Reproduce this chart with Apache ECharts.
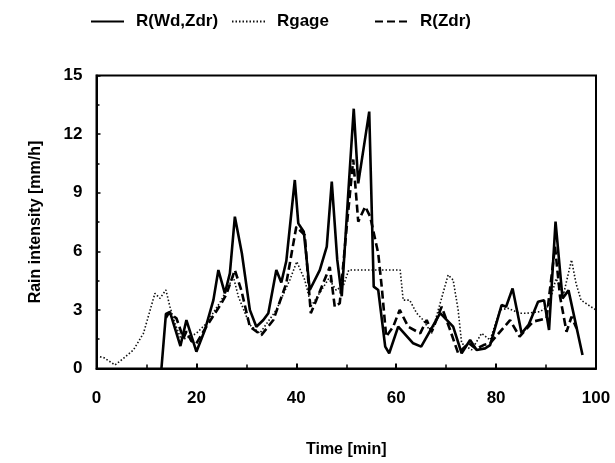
<!DOCTYPE html>
<html>
<head>
<meta charset="utf-8">
<script src="https://cdn.jsdelivr.net/npm/echarts@6/dist/echarts.min.js"></script>
<style>html,body{margin:0;padding:0;background:#fff;}#c{width:615px;height:463px;}</style>
</head>
<body>
<div id="c"></div>
<script>
// R(Wd,Zdr) - solid
var solidT = [13, 13.9, 14.7, 16.8, 18, 20, 21.7, 23.4, 24.4, 25.7, 26.7, 27.7, 29.1, 30.7, 32, 33.4, 34.4, 36, 37, 38, 39.7, 40.4, 41.5, 42.7, 44.7, 46.1, 47.1, 48.2, 49.1, 50.4, 51.5, 52.4, 54.6, 55.5, 56.4, 57.8, 58.6, 60.4, 63.4, 65, 68.8, 71.4, 73.1, 74.8, 76.1, 77.8, 78.8, 81.1, 82, 83.3, 85.1, 86.5, 88.4, 89.6, 90.6, 91.9, 93.3, 94.5, 97.3];
var solidV = [0, 2.8, 2.9, 1.15, 2.48, 0.86, 1.97, 3.5, 5.04, 3.85, 4.87, 7.77, 5.9, 3.0, 2.14, 2.48, 2.83, 5.04, 4.4, 5.5, 9.65, 7.43, 7.0, 4.02, 5.04, 6.24, 9.57, 5.56, 3.7, 8.97, 13.3, 9.48, 13.15, 4.19, 4.02, 1.12, 0.78, 2.14, 1.29, 1.12, 2.83, 2.14, 0.78, 1.46, 0.95, 1.03, 1.2, 3.25, 3.16, 4.1, 1.8, 2.23, 3.42, 3.5, 1.97, 7.52, 3.59, 4.0, 0.69];
// Rgage - dotted
var gageT = [0.7, 1.5, 3.7, 5.4, 7.4, 9.4, 11.7, 12.7, 13.9, 14.7, 15.7, 17, 18.7, 20, 22, 25, 27.4, 28.4, 30.7, 32.7, 36, 38.7, 40.1, 41.7, 43, 44.5, 46.5, 48, 49.5, 50.5, 60.8, 61.4, 62.7, 64.1, 65.4, 67.1, 70.4, 71.4, 72.4, 73.1, 75.1, 77.1, 78.8, 80.8, 82.4, 84.7, 86.1, 88.8, 90.5, 92, 93.5, 95.1, 96, 97, 99, 100];
var gageV = [0.6, 0.55, 0.18, 0.52, 0.95, 1.8, 3.85, 3.59, 4.02, 3.16, 2.31, 1.46, 1.63, 1.8, 2.31, 3.5, 4.7, 3.68, 2.23, 1.8, 3.0, 4.53, 5.47, 4.53, 3.2, 3.8, 4.6, 4.0, 4.3, 5.04, 5.04, 3.5, 3.5, 2.83, 2.48, 1.8, 4.79, 4.53, 3.0, 1.29, 0.95, 1.8, 1.46, 3.0, 3.08, 2.83, 2.83, 2.91, 3.2, 4.6, 3.8, 5.56, 4.36, 3.5, 3.16, 3.0];
// R(Zdr) - dashed
var zdrT = [13.9, 14.5, 16, 17.4, 18, 19, 20, 22, 25, 26, 27.7, 29, 30.7, 33, 35.4, 38, 40, 41.7, 42.9, 44, 46.7, 47.7, 48.7, 50, 51.4, 52.4, 53.8, 54.8, 56.4, 57.1, 58, 59.4, 60.7, 62.4, 64.8, 66.1, 67.1, 69.1, 70.8, 72.4, 74.5, 76, 77.5, 78.8, 82.8, 84.7, 87.4, 90.1, 91.8, 92.8, 94.1, 95.1, 96.1];
var zdrV = [2.6, 2.85, 2.57, 1.55, 1.9, 1.4, 1.29, 2.14, 3.34, 3.8, 5.04, 4.0, 2.14, 1.71, 2.48, 4.36, 7.26, 6.83, 2.83, 3.5, 5.2, 3.16, 3.34, 7.0, 10.7, 7.52, 8.29, 7.77, 5.9, 4.19, 1.63, 2.14, 3.0, 2.14, 1.8, 2.48, 1.88, 3.16, 1.97, 0.78, 1.3, 1.0, 1.2, 1.29, 2.48, 1.63, 2.4, 2.57, 6.24, 3.68, 1.88, 2.65, 2.06];

var names = ['R(Wd,Zdr)', 'Rgage', 'R(Zdr)'];
var xTicks = [0, 20, 40, 60, 80, 100];
var yTicks = [0, 3, 6, 9, 12, 15];

function pairs(t, v) { return t.map(function (x, i) { return [x, v[i]]; }); }

var FONT = 'Liberation Sans, Arial, sans-serif';
var chart = echarts.init(document.getElementById('c'), null, { renderer: 'canvas' });
var legendCommon = {
  top: 8, itemWidth: 33, itemHeight: 14, itemGap: 10,
  itemStyle: { opacity: 0, borderWidth: 0 },
  textStyle: { fontFamily: FONT, fontSize: 17, fontWeight: 'bold', color: '#000', padding: [0, 0, 0, 7] }
};
chart.setOption({
  backgroundColor: '#fff',
  animation: false,
  legend: [
    Object.assign({ left: 85, data: [names[0]] }, legendCommon),
    Object.assign({ left: 226, data: [names[1]] }, legendCommon),
    Object.assign({ left: 369, data: [names[2]] }, legendCommon)
  ],
  grid: { left: 96.5, right: 19, top: 75.5, bottom: 94.5, show: true, borderColor: '#000', borderWidth: 2, backgroundColor: 'transparent' },
  xAxis: {
    type: 'value', min: xTicks[0], max: xTicks[xTicks.length - 1], interval: 20,
    name: 'Time [min]', nameLocation: 'middle', nameGap: 73,
    nameTextStyle: { fontFamily: FONT, fontSize: 16, fontWeight: 'bold', color: '#000' },
    axisLine: { lineStyle: { color: '#000', width: 2 } },
    axisTick: { inside: true, length: 5, lineStyle: { color: '#000', width: 2 } },
    minorTick: { show: true, splitNumber: 2, length: 4, lineStyle: { color: '#000', width: 1.5 } },
    splitLine: { show: false },
    axisLabel: { fontFamily: FONT, fontSize: 17, fontWeight: 'bold', color: '#000', margin: 21 }
  },
  yAxis: {
    type: 'value', min: yTicks[0], max: yTicks[yTicks.length - 1], interval: 3,
    name: 'Rain intensity [mm/h]', nameLocation: 'middle', nameGap: 53, nameRotate: 90,
    nameTextStyle: { fontFamily: FONT, fontSize: 16, fontWeight: 'bold', color: '#000' },
    axisLine: { lineStyle: { color: '#000', width: 2 } },
    axisTick: { inside: true, length: 4, lineStyle: { color: '#000', width: 1.5 } },
    minorTick: { show: true, splitNumber: 2, length: 3, lineStyle: { color: '#000', width: 1.5 } },
    splitLine: { show: false },
    axisLabel: { fontFamily: FONT, fontSize: 17, fontWeight: 'bold', color: '#000', margin: 14 }
  },
  series: [
    { name: names[0], type: 'line', symbol: 'none', data: pairs(solidT, solidV), z: 3,
      lineStyle: { color: '#000', width: 2.6, type: 'solid' }, itemStyle: { color: '#000' } },
    { name: names[1], type: 'line', symbol: 'none', data: pairs(gageT, gageV), z: 1,
      lineStyle: { color: '#111', width: 1.6, type: [1.5, 2] }, itemStyle: { color: '#111' } },
    { name: names[2], type: 'line', symbol: 'none', data: pairs(zdrT, zdrV), z: 2,
      lineStyle: { color: '#000', width: 2.6, type: [8, 4] }, itemStyle: { color: '#000' } }
  ]
});
</script>
</body>
</html>
